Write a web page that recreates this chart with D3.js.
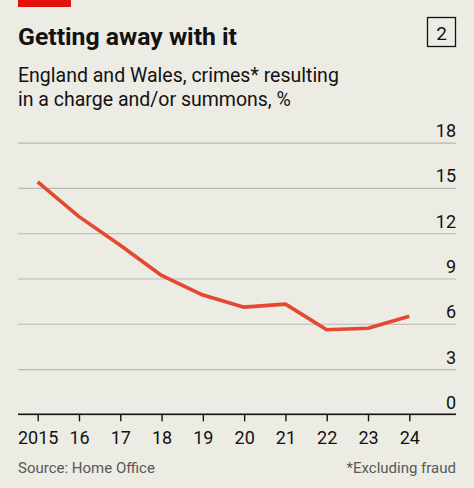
<!DOCTYPE html>
<html><head><meta charset="utf-8">
<script src="https://cdn.jsdelivr.net/npm/d3@7"></script>
<style>
html,body{margin:0;padding:0;background:#ecebe4;}
svg{display:block;}
</style></head>
<body>
<svg id="chart" width="474" height="488"></svg>
<script>
const years = [2015, 2016, 2017, 2018, 2019, 2020, 2021, 2022, 2023, 2024];
const xTickLabels = ["2015", "16", "17", "18", "19", "20", "21", "22", "23", "24"];
const chargeRate = [15.4, 13.1, 11.2, 9.2, 7.9, 7.1, 7.3, 5.6, 5.7, 6.5];
const yTicks = [0, 3, 6, 9, 12, 15, 18];

(function () {
const svg = d3.select("#chart");
const W = 474, H = 488;
svg.append("rect").attr("width", W).attr("height", H).attr("fill", "#ecebe4");

const font = "Roboto, 'Liberation Sans', sans-serif";

svg.append("rect").attr("x", 18).attr("y", 0).attr("width", 53).attr("height", 7).attr("fill", "#e3120b");

svg.append("text").attr("x", 18).attr("y", 45).text("Getting away with it")
  .attr("font-family", font).attr("font-weight", 700).attr("font-size", 24.5).attr("fill", "#121212")
  .attr("textLength", 219).attr("lengthAdjust", "spacingAndGlyphs");

svg.append("rect").attr("x", 427.5).attr("y", 17.5).attr("width", 28).attr("height", 29)
  .attr("fill", "none").attr("stroke", "#121212").attr("stroke-width", 1.3);
svg.append("text").attr("x", 441.5).attr("y", 39.5).attr("text-anchor", "middle").text("2")
  .attr("font-family", font).attr("font-size", 19).attr("fill", "#121212");

const sub = svg.append("text").attr("font-family", font).attr("font-size", 19.5).attr("fill", "#121212");
sub.append("tspan").attr("x", 18).attr("y", 82).text("England and Wales, crimes* resulting");
sub.append("tspan").attr("x", 18).attr("y", 106).text("in a charge and/or summons, %");

const pl = 18, pr = 456, pt = 142.7, pb = 414.3;
const x = d3.scalePoint().domain(years).range([37.7, 409.3]);
const y = d3.scaleLinear().domain([0, 18]).range([pb, pt]);

const yAxis = d3.axisRight(y).tickValues(yTicks).tickSize(pr - pl).tickFormat(d => d);
const gy = svg.append("g").attr("transform", `translate(${pl},0)`).call(yAxis);
gy.select(".domain").remove();
gy.selectAll(".tick line").attr("stroke", "#b9b8b1").attr("stroke-width", 1.2);
gy.selectAll(".tick text").attr("x", pr - pl).attr("dy", -6).attr("text-anchor", "end")
  .attr("font-family", font).attr("font-size", 18).attr("fill", "#121212");

svg.append("line").attr("x1", pl).attr("x2", pr).attr("y1", y(0)).attr("y2", y(0))
  .attr("stroke", "#121212").attr("stroke-width", 1.4);

const xAxis = d3.axisBottom(x).tickSize(7).tickFormat((d, i) => xTickLabels[i]);
const gx = svg.append("g").attr("transform", `translate(0,${y(0)})`).call(xAxis);
gx.select(".domain").remove();
gx.selectAll(".tick line").attr("stroke", "#121212").attr("stroke-width", 1.4);
gx.selectAll(".tick text").attr("y", 16.5).attr("dy", "0.71em")
  .attr("font-family", font).attr("font-size", 18).attr("fill", "#121212");

const line = d3.line().x((d, i) => x(years[i])).y(d => y(d));
svg.append("path").datum(chargeRate).attr("d", line).attr("fill", "none")
  .attr("stroke", "#e5472f").attr("stroke-width", 3.6).attr("stroke-linejoin", "round");

svg.append("text").attr("x", 18).attr("y", 473).text("Source: Home Office")
  .attr("font-family", font).attr("font-size", 15).attr("fill", "#595959");
svg.append("text").attr("x", 456).attr("y", 473).attr("text-anchor", "end").text("*Excluding fraud")
  .attr("font-family", font).attr("font-size", 15).attr("fill", "#595959");
})();
</script>
</body></html>
